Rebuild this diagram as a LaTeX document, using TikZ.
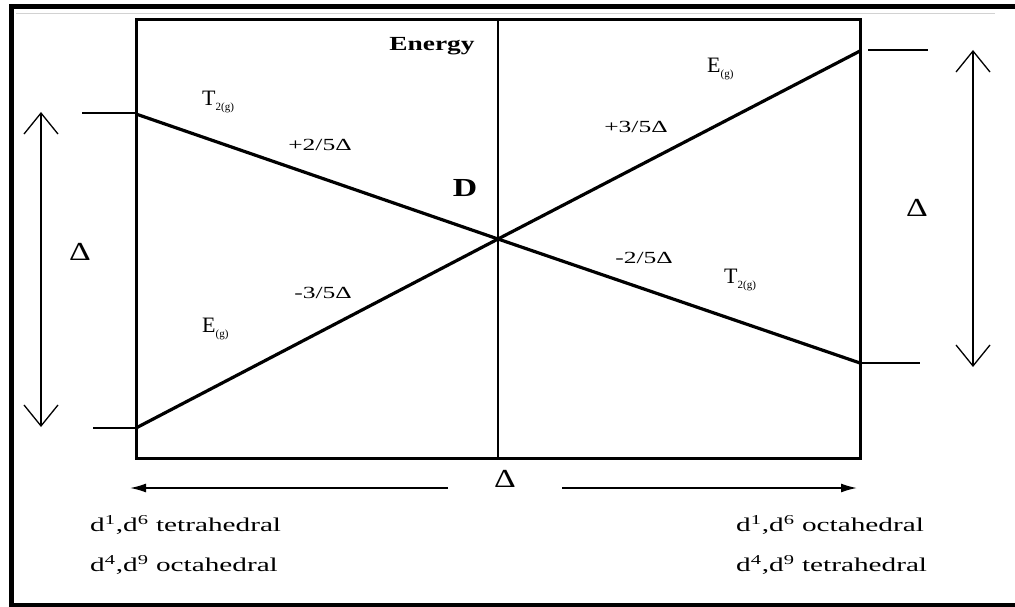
\documentclass[tikz,border=0pt]{standalone}
\usepackage{fontspec}
\usepackage{graphicx}
\setmainfont{Liberation Serif}
\usetikzlibrary{arrows.meta}
\newcommand{\hsc}[2]{\scalebox{#1}[1]{#2}}
\newcommand{\subg}[1]{\raisebox{-5pt}{\fontsize{11}{11}\selectfont #1}}
\begin{document}
\begin{tikzpicture}[x=1pt,y=-1pt,
  frame/.style={line width=4.5pt},
  boxline/.style={line width=3pt},
  level/.style={line width=3.2pt},
  tick/.style={line width=2pt},
  dbl/.style={line width=2pt,{Straight Barb[length=21pt,width=34pt,line width=1.3pt]}-{Straight Barb[length=21pt,width=34pt,line width=1.3pt]}},
  harr/.style={line width=1.6pt,-{Latex[length=16pt,width=9pt]}},
  lab/.style={inner sep=0pt,font=\fontsize{17}{17}\selectfont},
  sym/.style={inner sep=0pt,anchor=west,font=\fontsize{22}{22}\selectfont},
  dtext/.style={inner sep=0pt,anchor=west,font=\fontsize{19.5}{19.5}\selectfont}]
\useasboundingbox (0,0) rectangle (1015,607);
\fill[white] (0,0) rectangle (1015,607);
% outer frame
\draw[frame] (1020,6.5) -- (11.5,6.5) -- (11.5,605) -- (1020,605);
\draw[gray!35,line width=1pt] (16,14) -- (995,14);
% inner box and axis
\draw[boxline] (136,19.5) rectangle (860,458);
\coordinate (axT) at (498,19.5);
\coordinate (axB) at (498,458);
\draw[line width=2.5pt] (axT) -- (axB);
% levels
\coordinate (C) at (498,239);
\coordinate (tL) at (136,114);
\coordinate (tR) at (860,363);
\coordinate (eL) at (136,428);
\coordinate (eR) at (860,51);
\draw[level] (tL) -- (C) -- (tR);
\draw[level] (eL) -- (C) -- (eR);
% ticks
\coordinate (k1a) at (82,113); \coordinate (k1b) at (136,113);
\coordinate (k2a) at (93,428); \coordinate (k2b) at (136,428);
\coordinate (k3a) at (868,50); \coordinate (k3b) at (928,50);
\coordinate (k4a) at (860,363); \coordinate (k4b) at (920,363);
\draw[tick] (k1a) -- (k1b);
\draw[tick] (k2a) -- (k2b);
\draw[tick] (k3a) -- (k3b);
\draw[tick] (k4a) -- (k4b);
% double arrows
\coordinate (la1) at (41,112); \coordinate (la2) at (41,427);
\coordinate (ra1) at (973,50); \coordinate (ra2) at (973,367);
\draw[dbl] (la2) -- (la1);
\draw[dbl] (ra2) -- (ra1);
\node[inner sep=0pt,font=\fontsize{26}{26}\selectfont] (dL) at (80,252) {\hsc{1.3}{Δ}};
\node[inner sep=0pt,font=\fontsize{26}{26}\selectfont] (dR) at (917,208) {\hsc{1.3}{Δ}};
% bottom arrows
\coordinate (ba1) at (448,488); \coordinate (ba2) at (130,488);
\coordinate (ba3) at (562,488); \coordinate (ba4) at (857,488);
\draw[harr] (ba1) -- (ba2);
\draw[harr] (ba3) -- (ba4);
\node[inner sep=0pt,font=\fontsize{26}{26}\selectfont] (dB) at (505,479) {\hsc{1.3}{Δ}};
% labels
\node[inner sep=0pt,font=\bfseries\fontsize{20}{20}\selectfont] (en) at (432,46) {\hsc{1.37}{Energy}};
\node[inner sep=0pt,font=\bfseries\fontsize{26}{26}\selectfont] (D) at (465,188) {\hsc{1.3}{D}};
\node[sym] (t2L) at (202,102) {T\subg{2(g)}};
\node[sym] (egL) at (202,329) {E\subg{(g)}};
\node[sym] (egR) at (707,69) {E\subg{(g)}};
\node[sym] (t2R) at (724,280) {T\subg{2(g)}};
\node[lab] (p25) at (320,145) {\hsc{1.5}{+2/5Δ}};
\node[lab] (m35) at (323,293) {\hsc{1.5}{-3/5Δ}};
\node[lab] (p35) at (636,127) {\hsc{1.5}{+3/5Δ}};
\node[lab] (m25) at (644,258) {\hsc{1.5}{-2/5Δ}};
% bottom texts
\node[dtext] (b1) at (90,525) {\hsc{1.5}{d\textsuperscript{1},d\textsuperscript{6} tetrahedral}};
\node[dtext] (b2) at (90,565) {\hsc{1.5}{d\textsuperscript{4},d\textsuperscript{9} octahedral}};
\node[dtext] (b3) at (736,525) {\hsc{1.5}{d\textsuperscript{1},d\textsuperscript{6} octahedral}};
\node[dtext] (b4) at (736,565) {\hsc{1.5}{d\textsuperscript{4},d\textsuperscript{9} tetrahedral}};
\end{tikzpicture}
\end{document}
